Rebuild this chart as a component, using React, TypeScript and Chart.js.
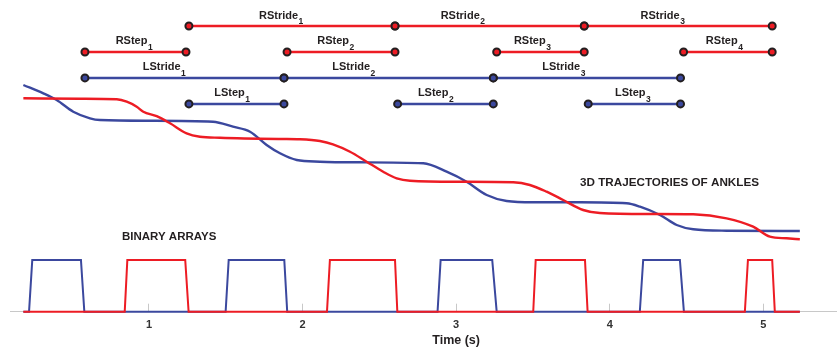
import React, { useEffect, useRef } from 'react';
import { Chart, registerables } from 'chart.js';

Chart.register(...registerables);

const FONT = '"Liberation Sans", Arial, Helvetica, sans-serif';
const RED = '#ed1c24';
const BLUE = '#3b489e';
const INK = '#231f20';

// Time axis (s)
const timeMin = 0.095;
const timeMax = 5.478;
const timeTicks = [1, 2, 3, 4, 5];

// Binary contact arrays: vertex times (s) and 0/1 states
const leftBinaryTimes = [0.182, 0.219, 0.24, 0.557, 0.579, 1.499, 1.519, 1.881, 1.9, 2.879, 2.899, 3.235, 3.264, 4.196, 4.218, 4.457, 4.483, 5.238];
const leftBinaryStates = [0, 0, 1, 1, 0, 0, 1, 1, 0, 0, 1, 1, 0, 0, 1, 1, 0, 0];
const rightBinaryTimes = [0.182, 0.842, 0.859, 1.236, 1.258, 2.159, 2.178, 2.602, 2.617, 3.502, 3.518, 3.839, 3.856, 4.88, 4.9, 5.058, 5.075, 5.238];
const rightBinaryStates = [0, 0, 1, 1, 0, 0, 1, 1, 0, 0, 1, 1, 0, 0, 1, 1, 0, 0];

// Ankle trajectories: sample times (s) and position (m)
const leftAnkleTimes = [0.182, 0.312, 0.399, 0.507, 0.616, 0.681, 1.007, 1.417, 1.547, 1.658, 1.766, 1.853, 1.962, 2.113, 2.374, 2.786, 2.938, 3.068, 3.199, 3.329, 3.502, 3.806, 4.11, 4.197, 4.327, 4.436, 4.544, 4.761, 5.238];
const leftAnklePos = [2.267, 2.184, 2.117, 2.0, 1.934, 1.917, 1.91, 1.9, 1.85, 1.8, 1.667, 1.584, 1.517, 1.5, 1.494, 1.484, 1.4, 1.3, 1.167, 1.107, 1.094, 1.094, 1.084, 1.05, 0.967, 0.867, 0.824, 0.81, 0.807];
const rightAnkleTimes = [0.182, 0.551, 0.79, 0.855, 0.92, 0.963, 1.05, 1.137, 1.245, 1.332, 1.462, 1.853, 1.983, 2.113, 2.198, 2.309, 2.417, 2.525, 2.613, 2.699, 3.025, 3.372, 3.48, 3.589, 3.697, 3.827, 3.936, 4.262, 4.544, 4.761, 4.934, 5.043, 5.152, 5.238];
const rightAnklePos = [2.134, 2.13, 2.124, 2.1, 2.05, 2.0, 1.955, 1.884, 1.784, 1.75, 1.74, 1.727, 1.724, 1.707, 1.674, 1.6, 1.5, 1.4, 1.334, 1.31, 1.3, 1.294, 1.267, 1.2, 1.117, 1.017, 0.987, 0.977, 0.974, 0.934, 0.85, 0.75, 0.734, 0.724];

// Gait intervals [start, end] (s)
const rightStrides = [[1.26, 2.602], [2.602, 3.834], [3.834, 5.058]];
const rightSteps = [[0.583, 1.241], [1.899, 2.602], [3.264, 3.834], [4.481, 5.058]];
const leftStrides = [[0.583, 1.879], [1.879, 3.242], [3.242, 4.461]];
const leftSteps = [[1.26, 1.879], [2.619, 3.242], [3.86, 4.461]];

// Where each interval label starts (s)
const rightStrideLabelAt = [1.716, 2.899, 4.201];
const rightStepLabelAt = [0.783, 2.096, 3.376, 4.626];
const leftStrideLabelAt = [0.959, 2.193, 3.561];
const leftStepLabelAt = [1.425, 2.751, 4.034];

const intervalGroups = [
  { name: 'RStride', row: 11, color: RED, spans: rightStrides, labelAt: rightStrideLabelAt },
  { name: 'RStep', row: 10, color: RED, spans: rightSteps, labelAt: rightStepLabelAt },
  { name: 'LStride', row: 9, color: BLUE, spans: leftStrides, labelAt: leftStrideLabelAt },
  { name: 'LStep', row: 8, color: BLUE, spans: leftSteps, labelAt: leftStepLabelAt },
];

const zip = (xs: number[], ys: number[]) => xs.map((x, i) => ({ x, y: ys[i] }));

const annotations = {
  id: 'gaitAnnotations',
  afterDatasetsDraw(chart: any) {
    const { ctx, scales } = chart;
    const xs = scales.x;
    const yRow = scales.yRow;
    ctx.save();
    ctx.fillStyle = INK;
    ctx.textBaseline = 'middle';
    ctx.textAlign = 'left';
    intervalGroups.forEach((g) => {
      g.labelAt.forEach((t, i) => {
        const x = xs.getPixelForValue(t);
        const y = yRow.getPixelForValue(g.row) - 10.5;
        ctx.font = `bold 11px ${FONT}`;
        ctx.fillText(g.name, x, y);
        const w = ctx.measureText(g.name).width;
        ctx.font = `bold 8.5px ${FONT}`;
        ctx.fillText(String(i + 1), x + w + 0.5, y + 6);
      });
    });
    ctx.font = `bold 11.5px ${FONT}`;
    ctx.fillText('BINARY ARRAYS', 122, 236.7);
    ctx.font = `bold 11.7px ${FONT}`;
    ctx.fillText('3D TRAJECTORIES OF ANKLES', 580, 182.7);
    ctx.textAlign = 'center';
    ctx.font = `bold 12.5px ${FONT}`;
    ctx.fillText('Time (s)', xs.getPixelForValue(3), 340.7);
    ctx.restore();
  },
};

export default function App() {
  const canvasRef = useRef<HTMLCanvasElement | null>(null);

  useEffect(() => {
    document.body.style.margin = '0';
    const canvas = canvasRef.current;
    if (!canvas) return;

    const intervalSets = intervalGroups.flatMap((g) =>
      g.spans.map(([s, e]) => ({
        type: 'line' as const,
        data: [{ x: s, y: g.row }, { x: e, y: g.row }],
        yAxisID: 'yRow',
        borderColor: g.color,
        borderWidth: 2.5,
        pointRadius: 3.5,
        pointBackgroundColor: g.color,
        pointBorderColor: INK,
        pointBorderWidth: 2,
        clip: false as const,
      }))
    );

    const chart = new Chart(canvas, {
      type: 'line',
      data: {
        datasets: [
          ...intervalSets,
          {
            data: zip(rightBinaryTimes, rightBinaryStates),
            yAxisID: 'yBin',
            borderColor: RED,
            borderWidth: 2,
            pointRadius: 0,
            tension: 0,
            clip: false,
          },
          {
            data: zip(leftBinaryTimes, leftBinaryStates),
            yAxisID: 'yBin',
            borderColor: BLUE,
            borderWidth: 2,
            pointRadius: 0,
            tension: 0,
            clip: false,
          },
          {
            data: zip(rightAnkleTimes, rightAnklePos),
            yAxisID: 'yTraj',
            borderColor: RED,
            borderWidth: 2.4,
            pointRadius: 0,
            cubicInterpolationMode: 'monotone',
            clip: false,
          },
          {
            data: zip(leftAnkleTimes, leftAnklePos),
            yAxisID: 'yTraj',
            borderColor: BLUE,
            borderWidth: 2.4,
            pointRadius: 0,
            cubicInterpolationMode: 'monotone',
            clip: false,
          },
        ] as any,
      },
      options: {
        animation: false,
        responsive: false,
        layout: { autoPadding: false, padding: { left: 10, right: 3.3, top: 0, bottom: 3.7 } },
        plugins: { legend: { display: false }, tooltip: { enabled: false } },
        scales: {
          x: {
            type: 'linear',
            min: timeMin,
            max: timeMax,
            afterBuildTicks: (scale: any) => {
              scale.ticks = timeTicks.map((v) => ({ value: v }));
            },
            ticks: {
              color: '#333',
              font: { family: FONT, size: 11, weight: 'bold' },
              padding: 14.7,
              callback: (v: any) => String(v),
            },
            grid: {
              display: true,
              drawOnChartArea: false,
              drawTicks: true,
              tickLength: -8,
              color: '#c8c8c8',
              lineWidth: 1,
            },
            border: { display: true, color: '#c8c8c8', width: 1 },
          },
          yBin: { type: 'linear', display: false, min: 0, max: 6.03 },
          yTraj: { type: 'linear', display: false, min: 0, max: 3.117 },
          yRow: { type: 'linear', display: false, min: 0, max: 12 },
        },
      } as any,
      plugins: [annotations],
    });

    return () => chart.destroy();
  }, []);

  return <canvas ref={canvasRef} width={840} height={350} style={{ display: 'block' }} />;
}
